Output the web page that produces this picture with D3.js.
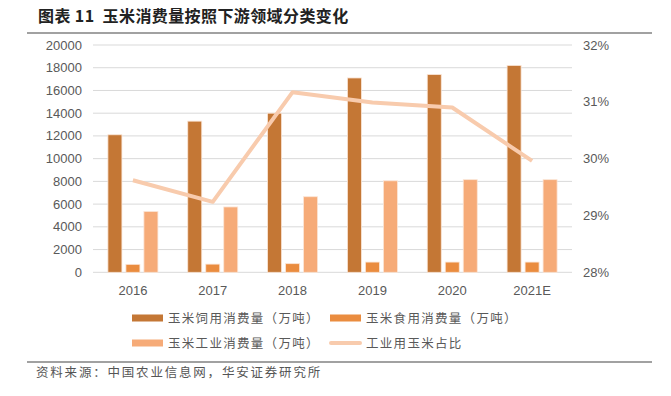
<!DOCTYPE html>
<html>
<head>
<meta charset="utf-8">
<script src="https://cdn.jsdelivr.net/npm/d3@7"></script>
<style>
  body { margin: 0; background: #fff; }
  svg { display: block; }
</style>
</head>
<body>
<div id="chart"></div>
<script>
const years = ["2016", "2017", "2018", "2019", "2020", "2021E"];
const feed = [12100, 13300, 14000, 17100, 17400, 18200];
const food = [700, 720, 760, 900, 900, 900];
const industry = [5350, 5750, 6650, 8050, 8150, 8150];
const share = [29.62, 29.24, 31.17, 30.99, 30.9, 29.96];

const leftTicks = [0, 2000, 4000, 6000, 8000, 10000, 12000, 14000, 16000, 18000, 20000];
const rightTicks = [28, 29, 30, 31, 32];

const seriesNames = ["玉米饲用消费量（万吨）", "玉米食用消费量（万吨）", "玉米工业消费量（万吨）"];
const lineName = "工业用玉米占比";
const colors = ["#c47735", "#ea8c3f", "#f6ab78"];
const lineColor = "#f8cbad";

const W = 671, H = 396;
const plot = { left: 93, right: 572, top: 45, bottom: 272.3 };

const svg = d3.select("#chart").append("svg")
  .attr("width", W).attr("height", H);

const font = "'Liberation Sans', Arial, sans-serif";
const cjk = "'Noto Sans CJK SC', sans-serif";

// title + rules
svg.append("text")
  .attr("x", 38).attr("y", 22)
  .attr("font-family", cjk).attr("font-weight", "bold")
  .attr("font-size", 16).attr("fill", "#222")
  .style("white-space", "pre")
  .attr("letter-spacing", 0.4)
  .text("图表 11  玉米消费量按照下游领域分类变化");
svg.append("line").attr("x1", 27).attr("x2", 652).attr("y1", 33).attr("y2", 33)
  .attr("stroke", "#444").attr("stroke-width", 1.2);
svg.append("line").attr("x1", 27).attr("x2", 652).attr("y1", 362).attr("y2", 362)
  .attr("stroke", "#444").attr("stroke-width", 1.2);
svg.append("text")
  .attr("x", 36).attr("y", 377)
  .attr("font-family", cjk).attr("font-size", 12.5).attr("fill", "#555")
  .attr("letter-spacing", 1.8)
  .text("资料来源：中国农业信息网，华安证券研究所");

// scales
const x = d3.scaleBand().domain(years).range([plot.left, plot.right]);
const inner = d3.scaleBand().domain([0, 1, 2]).range([0, 50]).paddingInner(4 / 18);
const y = d3.scaleLinear().domain([0, 20000]).range([plot.bottom, plot.top]);
const y2 = d3.scaleLinear().domain([28, 32]).range([plot.bottom, plot.top]);

// gridlines
svg.append("g").selectAll("line").data(leftTicks).join("line")
  .attr("x1", plot.left).attr("x2", plot.right)
  .attr("y1", d => y(d)).attr("y2", d => y(d))
  .attr("stroke", "#d9d9d9").attr("stroke-width", 1);

// left axis labels
svg.append("g").selectAll("text").data(leftTicks).join("text")
  .attr("x", 82).attr("y", d => y(d) + 4.5)
  .attr("text-anchor", "end")
  .attr("font-family", font).attr("font-size", 13).attr("fill", "#595959")
  .text(d => d);

// right axis labels
svg.append("g").selectAll("text").data(rightTicks).join("text")
  .attr("x", 583).attr("y", d => y2(d) + 4.5)
  .attr("font-family", font).attr("font-size", 13).attr("fill", "#595959")
  .text(d => d + "%");

// x labels
svg.append("g").selectAll("text").data(years).join("text")
  .attr("x", d => x(d) + x.bandwidth() / 2).attr("y", 295)
  .attr("text-anchor", "middle")
  .attr("font-family", font).attr("font-size", 13).attr("fill", "#595959")
  .text(d => d);

// bars
const seriesData = [feed, food, industry];
seriesData.forEach((vals, si) => {
  svg.append("g").selectAll("rect").data(vals).join("rect")
    .attr("x", (d, i) => x(years[i]) + x.bandwidth() / 2 - 25 + inner(si))
    .attr("y", d => y(d))
    .attr("width", inner.bandwidth())
    .attr("height", d => y(0) - y(d))
    .attr("fill", colors[si])
    .attr("stroke", "#fbe5d6").attr("stroke-width", 0.8);
});

// line
const line = d3.line()
  .x((d, i) => x(years[i]) + x.bandwidth() / 2)
  .y(d => y2(d));
svg.append("path").datum(share)
  .attr("d", line)
  .attr("fill", "none")
  .attr("stroke", lineColor).attr("stroke-width", 4)
  .attr("stroke-linejoin", "round");

// legend
const legendItems = [
  { name: seriesNames[0], color: colors[0], type: "bar", x: 132, y: 318 },
  { name: seriesNames[1], color: colors[1], type: "bar", x: 330, y: 318 },
  { name: seriesNames[2], color: colors[2], type: "bar", x: 132, y: 343 },
  { name: lineName, color: lineColor, type: "line", x: 330, y: 343 }
];
const lg = svg.append("g").selectAll("g").data(legendItems).join("g")
  .attr("transform", d => `translate(${d.x},${d.y})`);
lg.filter(d => d.type === "bar").append("rect")
  .attr("x", 0).attr("y", -3.5).attr("width", 31).attr("height", 7)
  .attr("fill", d => d.color);
lg.filter(d => d.type === "line").append("line")
  .attr("x1", 1).attr("x2", 30).attr("y1", 0).attr("y2", 0)
  .attr("stroke", d => d.color).attr("stroke-width", 4).attr("stroke-linecap", "round");
lg.append("text")
  .attr("x", 36).attr("y", 4.5)
  .attr("font-family", cjk).attr("font-size", 12.5).attr("fill", "#595959")
  .attr("letter-spacing", 1.3)
  .text(d => d.name);
</script>
</body>
</html>
